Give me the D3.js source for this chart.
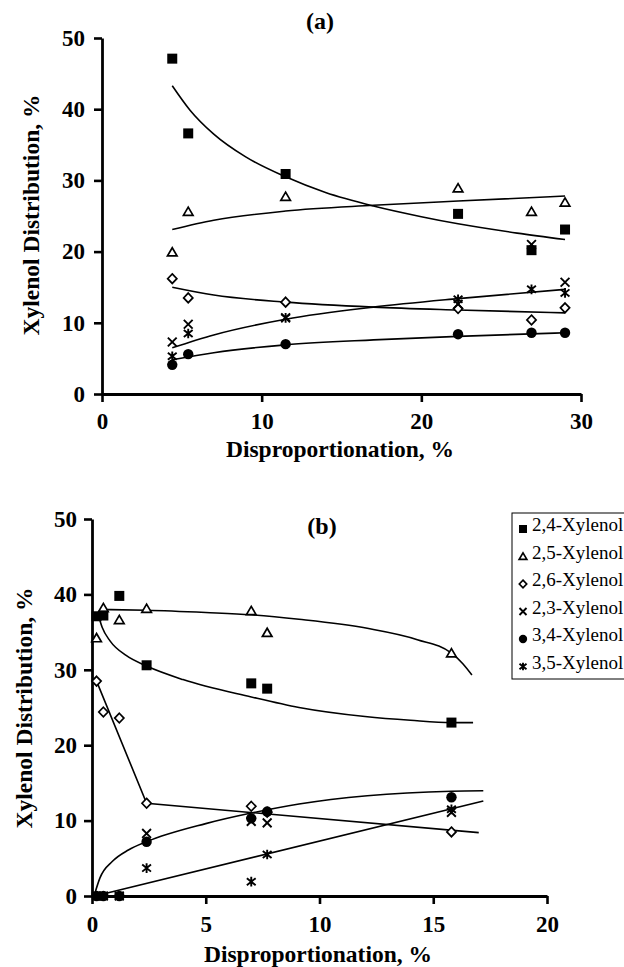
<!DOCTYPE html>
<html><head><meta charset="utf-8">
<script src="https://cdn.jsdelivr.net/npm/d3@7"></script>
<style>body{margin:0;background:#fff}svg{display:block}</style>
</head><body>
<script>
// ---------- DATA: panel (a) ----------
const xA = [4.4, 5.4, 11.5, 22.3, 26.9, 29];
const a24 = [47.1, 36.6, 30.9, 25.3, 20.2, 23.1];
const a25 = [19.9, 25.6, 27.7, 28.9, 25.6, 26.9];
const a26 = [16.2, 13.5, 12.9, 12.0, 10.4, 12.1];
const a23 = [7.3, 9.8, 10.7, 12.6, 21.0, 15.7];
const a34 = [4.1, 5.6, 7.0, 8.4, 8.6, 8.6];
const a35 = [5.3, 8.5, 10.7, 13.3, 14.7, 14.2];
// trend curves (a)
const tA24x = [4.4, 5.5, 7, 9, 11.5, 14, 17, 20, 22.3, 26, 29];
const tA24 = [43.3, 39.9, 36.5, 33.3, 30.5, 28.3, 26.4, 24.9, 23.9, 22.6, 21.7];
const tAx = [4.4, 7, 11.5, 17, 22.3, 29];
const tA25 = [23.1, 24.4, 25.7, 26.5, 27.1, 27.8];
const tA26 = [15.0, 13.9, 12.9, 12.2, 11.8, 11.4];
const tA35 = [6.5, 8.3, 10.5, 12.2, 13.4, 14.7];
const tA34 = [4.8, 5.8, 6.9, 7.6, 8.1, 8.6];

// ---------- DATA: panel (b) ----------
const xB = [0.2, 0.5, 1.2, 2.4, 7.0, 7.7, 15.8];
const b24 = [37.1, 37.2, 39.8, 30.6, 28.2, 27.5, 23.0];
const b25 = [34.2, 38.2, 36.6, 38.1, 37.8, 34.9, 32.2];
const b26 = [28.5, 24.4, 23.6, 12.3, 11.9, 11.1, 8.5];
const b23 = [0, 0, 0, 8.3, 9.9, 9.7, 11.1];
const b34 = [0, 0, 0, 7.2, 10.3, 11.2, 13.1];
const b35 = [0, 0, 0, 3.7, 1.9, 5.5, 11.5];
// trend curves (b)
const tB25x = [0.4, 2.4, 5, 7, 9.1, 12.1, 14.3, 15.8, 16.3, 16.7];
const tB25 = [38.0, 37.9, 37.6, 37.3, 36.7, 35.5, 34.0, 32.2, 30.8, 29.3];
const tB24x = [0.3, 0.45, 0.8, 1.5, 2.4, 4, 7, 9.1, 12, 14, 15.8, 16.75];
const tB24 = [37.0, 35.6, 33.8, 31.9, 30.5, 28.7, 26.4, 25.0, 23.8, 23.3, 23.0, 23.0];
const tB26x = [0.2, 2.4, 17.0];
const tB26 = [28.5, 12.3, 8.4];
const tB34x = [0.12, 0.35, 0.9, 1.6, 2.4, 5, 7, 9.1, 12.1, 15.8, 17.2];
const tB34 = [0.3, 2.4, 4.6, 6.1, 7.2, 9.6, 11.0, 12.2, 13.3, 13.9, 13.95];
const tB35x = [0.4, 17.2];
const tB35 = [0.2, 12.6];

const yTicks = [0, 10, 20, 30, 40, 50];
const xTicksA = [0, 10, 20, 30];
const xTicksB = [0, 5, 10, 15, 20];
const legendLabels = ["2,4-Xylenol", "2,5-Xylenol", "2,6-Xylenol", "2,3-Xylenol", "3,4-Xylenol", "3,5-Xylenol"];
const markerKinds = ["square", "triangle", "diamond", "x", "circle", "asterisk"];

const FONT = "'Liberation Serif','Times New Roman',Times,serif";
const svg = d3.select("body").append("svg").attr("width", 624).attr("height", 967);

function marker(g, kind, cx, cy, s) {
  s = s || 1;
  if (kind === "square") {
    g.append("rect").attr("x", cx - 5 * s).attr("y", cy - 5 * s).attr("width", 10 * s).attr("height", 10 * s).attr("fill", "#000");
  } else if (kind === "triangle") {
    g.append("path").attr("d", `M${cx},${cy - 4.6 * s}L${cx + 4.8 * s},${cy + 3.6 * s}L${cx - 4.8 * s},${cy + 3.6 * s}Z`)
      .attr("fill", "#fff").attr("stroke", "#000").attr("stroke-width", 1.7);
  } else if (kind === "diamond") {
    g.append("path").attr("d", `M${cx},${cy - 4.8 * s}L${cx + 4.6 * s},${cy}L${cx},${cy + 4.8 * s}L${cx - 4.6 * s},${cy}Z`)
      .attr("fill", "#fff").attr("stroke", "#000").attr("stroke-width", 1.7);
  } else if (kind === "circle") {
    g.append("circle").attr("cx", cx).attr("cy", cy).attr("r", 5.2 * s).attr("fill", "#000");
  } else if (kind === "x") {
    const a = 4.4 * s;
    g.append("path").attr("d", `M${cx - a},${cy - a}L${cx + a},${cy + a}M${cx - a},${cy + a}L${cx + a},${cy - a}`)
      .attr("stroke", "#000").attr("stroke-width", 1.9).attr("fill", "none");
  } else if (kind === "asterisk") {
    const a = 4.4 * s;
    g.append("path").attr("d", `M${cx - a},${cy - a * 0.8}L${cx + a},${cy + a * 0.8}M${cx - a},${cy + a * 0.8}L${cx + a},${cy - a * 0.8}M${cx},${cy - a * 1.1}L${cx},${cy + a * 1.1}`)
      .attr("stroke", "#000").attr("stroke-width", 1.9).attr("fill", "none");
  }
}

function panel(opt) {
  const g = svg.append("g");
  const x = d3.scaleLinear().domain(opt.xDomain).range(opt.xRange);
  const y = d3.scaleLinear().domain([0, 50]).range(opt.yRange);

  const yAxis = g.append("g").attr("transform", `translate(${opt.xRange[0]},0)`)
    .call(d3.axisLeft(y).tickValues(yTicks).tickSizeInner(8).tickSizeOuter(0).tickPadding(opt.yPad));
  const xAxis = g.append("g").attr("transform", `translate(0,${opt.yRange[0]})`)
    .call(d3.axisBottom(x).tickValues(opt.xTicks).tickSizeInner(8).tickSizeOuter(0).tickPadding(opt.xPad));
  [yAxis, xAxis].forEach(ax => {
    ax.select(".domain").attr("stroke", "#000").attr("stroke-width", 2.8);
    ax.selectAll(".tick line").attr("stroke", "#000").attr("stroke-width", 2.6);
    ax.selectAll(".tick text").attr("fill", "#000").style("font-family", FONT).style("font-weight", "bold").style("font-size", "23px");
  });

  // trend curves
  opt.trends.forEach(t => {
    const pts = t.xs.map((v, i) => [v, t.ys[i]]);
    g.append("path").datum(pts)
      .attr("d", d3.line().x(d => x(d[0])).y(d => y(d[1])).curve(t.linear ? d3.curveLinear : d3.curveMonotoneX))
      .attr("fill", "none").attr("stroke", "#000").attr("stroke-width", 1.6);
  });

  // points
  opt.series.forEach(s => {
    s.ys.forEach((v, i) => marker(g, s.kind, x(opt.xs[i]), y(v)));
  });

  // labels
  g.append("text").attr("x", opt.title[0]).attr("y", opt.title[1]).attr("text-anchor", "middle")
    .style("font-family", FONT).style("font-weight", "bold").style("font-size", "24px").text(opt.title[2]);
  g.append("text").attr("x", opt.xLab[0]).attr("y", opt.xLab[1]).attr("text-anchor", "middle")
    .style("font-family", FONT).style("font-weight", "bold").style("font-size", "23.5px").text("Disproportionation, %");
  g.append("text").attr("transform", `translate(${opt.yLab[0]},${opt.yLab[1]}) rotate(-90)`).attr("text-anchor", "middle")
    .style("font-family", FONT).style("font-weight", "bold").style("font-size", "23.5px").text("Xylenol Distribution, %");
  return g;
}

panel({
  xDomain: [0, 30], xRange: [102, 581], yRange: [394, 38], xTicks: xTicksA, yPad: 9, xPad: 11,
  xs: xA,
  series: [
    {kind: "triangle", ys: a25}, {kind: "diamond", ys: a26}, {kind: "square", ys: a24},
    {kind: "circle", ys: a34}, {kind: "asterisk", ys: a35}, {kind: "x", ys: a23}
  ],
  trends: [
    {xs: tA24x, ys: tA24}, {xs: tAx, ys: tA25}, {xs: tAx, ys: tA26}, {xs: tAx, ys: tA35}, {xs: tAx, ys: tA34}
  ],
  title: [320, 29, "(a)"], xLab: [340, 457], yLab: [39, 215]
});

panel({
  xDomain: [0, 20], xRange: [92, 547], yRange: [896, 519], xTicks: xTicksB, yPad: 7, xPad: 12,
  xs: xB,
  series: [
    {kind: "triangle", ys: b25}, {kind: "diamond", ys: b26}, {kind: "square", ys: b24},
    {kind: "x", ys: b23}, {kind: "asterisk", ys: b35}, {kind: "circle", ys: b34}
  ],
  trends: [
    {xs: tB25x, ys: tB25}, {xs: tB24x, ys: tB24}, {xs: tB26x, ys: tB26, linear: true},
    {xs: tB34x, ys: tB34}, {xs: tB35x, ys: tB35, linear: true}
  ],
  title: [322, 534, "(b)"], xLab: [318, 962], yLab: [32, 708]
});

// legend
const lg = svg.append("g");
lg.append("rect").attr("x", 512).attr("y", 513).attr("width", 120).attr("height", 166)
  .attr("fill", "#fff").attr("stroke", "#000").attr("stroke-width", 1);
legendLabels.forEach((lab, i) => {
  const by = 531 + i * 27.5;
  marker(lg, markerKinds[i], 523, by - 2, 0.8);
  lg.append("text").attr("x", 532).attr("y", by).style("font-family", FONT).style("font-size", "19px").text(lab);
});
</script>
</body></html>
